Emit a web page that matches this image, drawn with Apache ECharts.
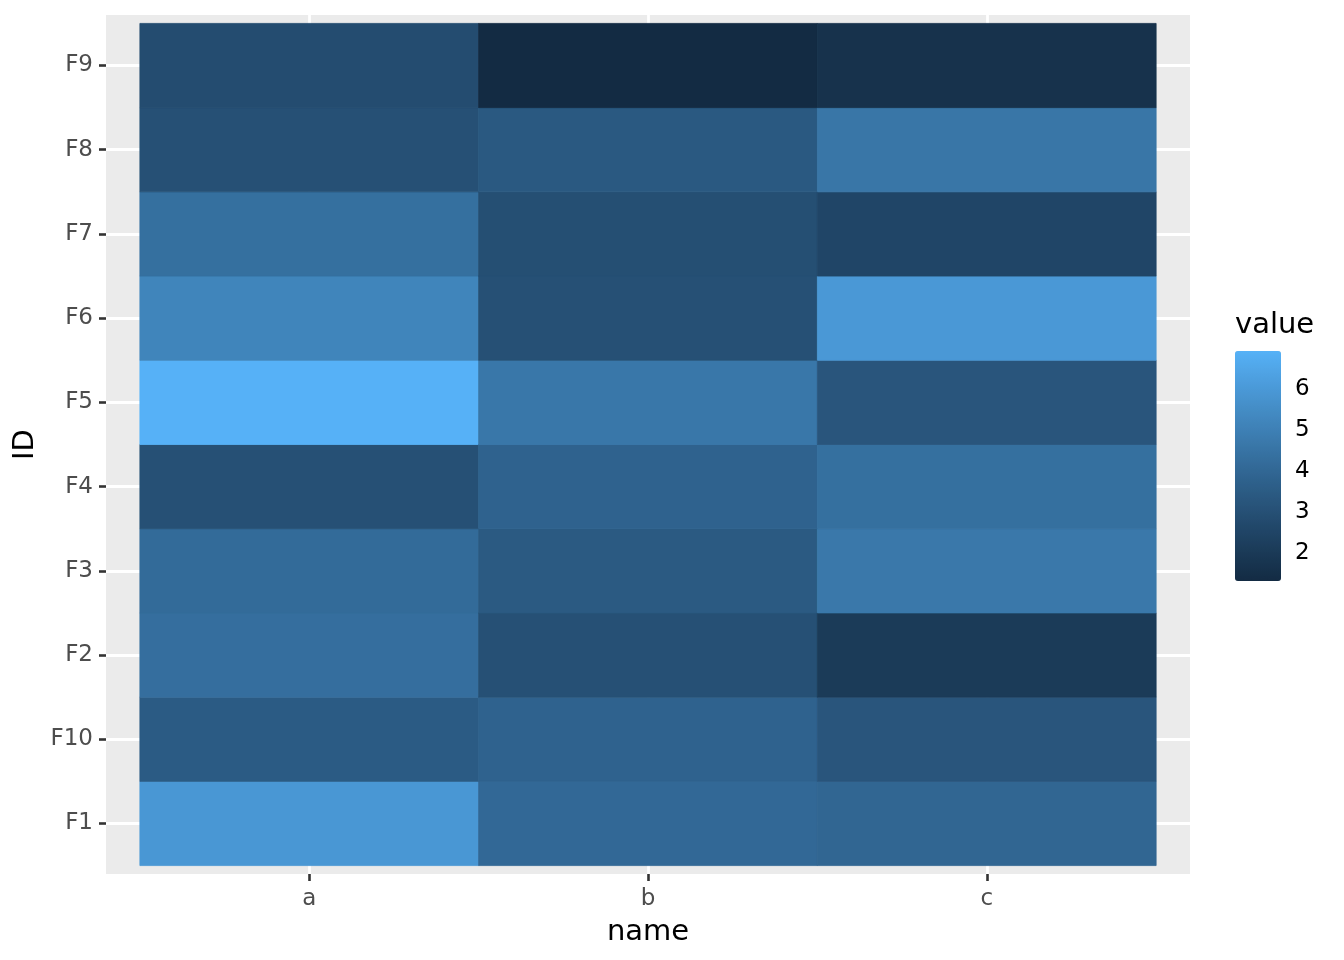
<!DOCTYPE html>
<html>
<head>
<meta charset="utf-8">
<script src="https://cdn.jsdelivr.net/npm/echarts@6/dist/echarts.min.js"></script>
<style>html,body{margin:0;padding:0;background:#fff}#main{width:1344px;height:960px}</style>
</head>
<body>
<div id="main"></div>
<script>
// ---- data ----
const names = ['a', 'b', 'c'];
const ids = ['F1', 'F10', 'F2', 'F3', 'F4', 'F5', 'F6', 'F7', 'F8', 'F9'];
const valuesA = [5.92, 3.50, 4.30, 4.15, 3.00, 6.93, 5.20, 4.35, 3.00, 2.85];
const valuesB = [4.05, 3.80, 3.00, 3.45, 3.80, 4.65, 3.00, 2.95, 3.40, 1.32];
const valuesC = [3.95, 3.25, 2.05, 4.70, 4.35, 3.25, 5.97, 2.55, 4.60, 1.65];
const legendTicks = [2, 3, 4, 5, 6];

const columns = [valuesA, valuesB, valuesC];
const data = [];
columns.forEach((col, xi) => col.forEach((v, yi) => data.push([xi + 1, yi + 1, v])));
const allVals = data.map(d => d[2]);
const vMin = Math.min(...allVals), vMax = Math.max(...allVals);

// ---- Lab gradient like ggplot's seq_gradient ----
function hex2rgb(h){return [1,3,5].map(i=>parseInt(h.substr(i,2),16));}
function s2l(c){c/=255;return c<=0.04045?c/12.92:Math.pow((c+0.055)/1.055,2.4);}
function l2s(c){c=c<=0.0031308?12.92*c:1.055*Math.pow(c,1/2.4)-0.055;return Math.round(Math.max(0,Math.min(1,c))*255);}
function rgb2lab(rgb){const [r,g,b]=rgb.map(s2l);const X=(0.4124*r+0.3576*g+0.1805*b)/0.95047,Y=0.2126*r+0.7152*g+0.0722*b,Z=(0.0193*r+0.1192*g+0.9505*b)/1.08883;const f=t=>t>0.008856?Math.cbrt(t):(7.787*t+16/116);const fx=f(X),fy=f(Y),fz=f(Z);return [116*fy-16,500*(fx-fy),200*(fy-fz)];}
function lab2rgb(lab){const fy=(lab[0]+16)/116,fx=fy+lab[1]/500,fz=fy-lab[2]/200;const fi=t=>t*t*t>0.008856?t*t*t:(t-16/116)/7.787;const X=fi(fx)*0.95047,Y=fi(fy),Z=fi(fz)*1.08883;const r=3.2406*X-1.5372*Y-0.4986*Z,g=-0.9689*X+1.8758*Y+0.0415*Z,b=0.0557*X-0.2040*Y+1.0570*Z;return 'rgb('+[r,g,b].map(l2s).join(',')+')';}
const lo = rgb2lab(hex2rgb('#132B43')), hi = rgb2lab(hex2rgb('#56B1F7'));
const stops = [];
for (let i = 0; i <= 20; i++) { const t = i/20; stops.push(lab2rgb([0,1,2].map(k => lo[k] + (hi[k]-lo[k])*t))); }

const font = 'DejaVu Sans';
const chart = echarts.init(document.getElementById('main'), null, {renderer: 'canvas'});
chart.setOption({
  backgroundColor: '#ffffff',
  animation: false,
  textStyle: {fontFamily: font},
  grid: [
    {left: 106, top: 15, width: 1084, height: 859, show: true, backgroundColor: '#EBEBEB', borderWidth: 0},
    {left: 1235, top: 351, width: 46, height: 230, show: false}
  ],
  xAxis: [
    {type: 'value', gridIndex: 0, min: 0.4, max: 3.6,
     axisLine: {show: false},
     axisTick: {show: true, customValues: [1, 2, 3], length: 7, lineStyle: {color: '#333333', width: 2.6}},
     axisLabel: {customValues: [1, 2, 3], formatter: v => names[Math.round(v) - 1], color: '#4D4D4D', fontSize: 23, margin: 14, fontFamily: font},
     splitLine: {show: true, lineStyle: {color: '#ffffff', width: 2.8}},
     name: 'name', nameLocation: 'middle', nameGap: 44, nameTextStyle: {fontSize: 29, color: '#000', fontFamily: font}},
    {type: 'value', gridIndex: 1, show: false, min: 0, max: 1}
  ],
  yAxis: [
    {type: 'value', gridIndex: 0, min: 0.4, max: 10.6,
     axisLine: {show: false},
     axisTick: {show: true, customValues: [1,2,3,4,5,6,7,8,9,10], length: 7, lineStyle: {color: '#333333', width: 2.6}},
     axisLabel: {customValues: [1,2,3,4,5,6,7,8,9,10], formatter: v => ids[Math.round(v) - 1], color: '#4D4D4D', fontSize: 23, margin: 13, fontFamily: font, padding: [4, 0, 0, 0]},
     splitLine: {show: true, lineStyle: {color: '#ffffff', width: 2.8}},
     name: 'ID', nameLocation: 'middle', nameGap: 64, nameTextStyle: {fontSize: 29, color: '#000', fontFamily: font}},
    {type: 'value', gridIndex: 1, position: 'right', min: vMin, max: vMax,
     axisLine: {show: false}, splitLine: {show: false},
     axisTick: {show: true, inside: true, customValues: legendTicks, length: 9, lineStyle: {color: 'rgba(255,255,255,0.75)', width: 1.5}},
     axisLabel: {customValues: legendTicks, color: '#000', fontSize: 23, margin: 14, fontFamily: font, padding: [4, 0, 0, 0]}},
    {type: 'value', gridIndex: 1, position: 'left', min: vMin, max: vMax,
     axisLine: {show: false}, splitLine: {show: false},
     axisTick: {show: true, inside: true, customValues: legendTicks, length: 9, lineStyle: {color: 'rgba(255,255,255,0.75)', width: 1.5}},
     axisLabel: {show: false}}
  ],
  visualMap: {
    type: 'continuous', min: vMin, max: vMax, dimension: 2, seriesIndex: 0,
    calculable: false, realtime: false, hoverLink: false,
    left: 1235, top: 351, itemWidth: 46, itemHeight: 230, padding: 0,
    inRange: {color: stops}, z: 1
  },
  graphic: [
    {type: 'text', left: 1235, top: 311, z: 10, style: {text: 'value', fontSize: 29, fill: '#000', fontFamily: font}}
  ],
  series: [{
    type: 'custom', xAxisIndex: 0, yAxisIndex: 0,
    encode: {x: 0, y: 1},
    data: data,
    renderItem: function (params, api) {
      const x = api.value(0), y = api.value(1);
      const p0 = api.coord([x - 0.5, y + 0.5]);
      const p1 = api.coord([x + 0.5, y - 0.5]);
      const c = api.visual('color');
      return {type: 'rect', shape: {x: p0[0], y: p0[1], width: p1[0] - p0[0], height: p1[1] - p0[1]},
              style: {fill: c, stroke: c, lineWidth: 0.8}};
    }
  }]
});
</script>
</body>
</html>
